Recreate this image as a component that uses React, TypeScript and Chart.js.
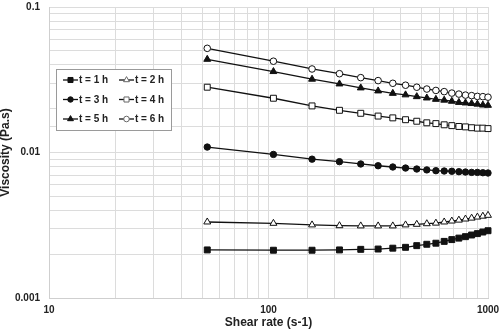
import React, { useEffect, useRef } from 'react';
import { Chart, registerables } from 'chart.js';

Chart.register(...registerables);

// Shear rate (s-1)
const shearRate = [52.6, 105.3, 157.9, 210.5, 263.2, 315.8, 368.4, 421.1, 473.7, 526.3, 578.9, 631.6, 684.2, 736.8, 789.5, 842.1, 894.7, 947.4, 1000];

// Viscosity (Pa.s)
const visc1h = [0.00214, 0.00213, 0.00213, 0.00214, 0.00216, 0.00217, 0.0022, 0.00223, 0.00229, 0.00234, 0.00238, 0.00245, 0.00252, 0.00258, 0.00264, 0.00271, 0.00277, 0.00284, 0.0029];
const visc2h = [0.00333, 0.00326, 0.00318, 0.00314, 0.00313, 0.00313, 0.00313, 0.00318, 0.00321, 0.00324, 0.00327, 0.00333, 0.00338, 0.00343, 0.00349, 0.00354, 0.0036, 0.00365, 0.0037];
const visc3h = [0.0109, 0.0097, 0.009, 0.00865, 0.00834, 0.00811, 0.00795, 0.00782, 0.0077, 0.00759, 0.0075, 0.00746, 0.00743, 0.00738, 0.00734, 0.0073, 0.0073, 0.00726, 0.00723];
const visc4h = [0.0281, 0.0236, 0.0209, 0.0195, 0.0186, 0.0178, 0.0173, 0.0168, 0.0164, 0.016, 0.0158, 0.0155, 0.0153, 0.0151, 0.015, 0.0148, 0.0147, 0.0147, 0.0146];
const visc5h = [0.0437, 0.036, 0.0319, 0.0296, 0.0278, 0.0265, 0.0255, 0.0249, 0.0242, 0.0237, 0.0232, 0.0229, 0.0225, 0.0221, 0.0219, 0.0217, 0.0215, 0.0212, 0.0211];
const visc6h = [0.052, 0.0424, 0.0375, 0.0348, 0.0327, 0.0312, 0.0299, 0.029, 0.0281, 0.0273, 0.0267, 0.0262, 0.0256, 0.0252, 0.0248, 0.0246, 0.0243, 0.0242, 0.024];

const seriesLabels = ['t = 1 h', 't = 2 h', 't = 3 h', 't = 4 h', 't = 5 h', 't = 6 h'];
const seriesValues = [visc1h, visc2h, visc3h, visc4h, visc5h, visc6h];
const seriesMarkers = ['rect', 'triangle', 'circle', 'rect', 'triangle', 'circle'];
const seriesFilled = [true, false, true, false, true, false];
const markerRadius = [4.2, 4, 3.2, 4.2, 4, 3.3];

const xTickLabels = ['10', '100', '1000'];
const yTickLabels = ['0.001', '0.01', '0.1'];

const FONT = '"Liberation Sans", Arial, sans-serif';

function drawMarker(ctx: CanvasRenderingContext2D, style: string, x: number, y: number, r: number, filled: boolean) {
  ctx.save();
  ctx.beginPath();
  if (style === 'rect') {
    const s = Math.SQRT1_2 * r;
    ctx.rect(x - s, y - s, 2 * s, 2 * s);
  } else if (style === 'triangle') {
    let rad = 0;
    ctx.moveTo(x + Math.sin(rad) * r, y - Math.cos(rad) * r);
    rad += (2 * Math.PI) / 3;
    ctx.lineTo(x + Math.sin(rad) * r, y - Math.cos(rad) * r);
    rad += (2 * Math.PI) / 3;
    ctx.lineTo(x + Math.sin(rad) * r, y - Math.cos(rad) * r);
    ctx.closePath();
  } else {
    ctx.arc(x, y, r, 0, Math.PI * 2);
  }
  ctx.fillStyle = filled ? '#111' : '#fff';
  ctx.strokeStyle = filled ? '#111' : '#666';
  ctx.lineWidth = 1;
  ctx.fill();
  ctx.stroke();
  ctx.restore();
}

const boxLegend = {
  id: 'boxLegend',
  afterDraw(chart: any) {
    const { ctx, chartArea } = chart;
    const bx = chartArea.left + 7;
    const by = chartArea.top + 62;
    const bw = 115;
    const bh = 61;
    ctx.save();
    ctx.fillStyle = '#fff';
    ctx.strokeStyle = '#9a9a9a';
    ctx.lineWidth = 1;
    ctx.fillRect(bx, by, bw, bh);
    ctx.strokeRect(bx + 0.5, by + 0.5, bw, bh);
    ctx.font = `bold 10px ${FONT}`;
    ctx.textBaseline = 'middle';
    ctx.textAlign = 'left';
    for (let i = 0; i < seriesLabels.length; i++) {
      const col = i % 2;
      const row = Math.floor(i / 2);
      const lx = bx + 7 + col * 56;
      const ly = by + 11 + row * 19.5;
      ctx.strokeStyle = '#111';
      ctx.lineWidth = 1.3;
      ctx.beginPath();
      ctx.moveTo(lx, ly);
      ctx.lineTo(lx + 15, ly);
      ctx.stroke();
      drawMarker(ctx, seriesMarkers[i], lx + 7.5, ly, markerRadius[i] * 0.85, seriesFilled[i]);
      ctx.fillStyle = '#222';
      ctx.fillText(seriesLabels[i], lx + 16, ly + 0.5);
    }
    ctx.restore();
  },
};

export default function App() {
  const canvasRef = useRef<HTMLCanvasElement | null>(null);

  useEffect(() => {
    document.body.style.margin = '0';
    const canvas = canvasRef.current;
    if (!canvas) return;
    const datasets = seriesLabels.map((label, i) => ({
      label,
      data: shearRate.map((x, j) => ({ x, y: seriesValues[i][j] })),
      borderColor: '#111',
      borderWidth: 1.3,
      pointStyle: seriesMarkers[i],
      pointRadius: markerRadius[i],
      pointBorderWidth: 1,
      pointBorderColor: '#111',
      pointBackgroundColor: seriesFilled[i] ? '#111' : '#fff',
      tension: 0,
      clip: false as any,
      fill: false,
    }));

    const isPow10 = (v: number) => {
      const l = Math.log10(v);
      return Math.abs(l - Math.round(l)) < 1e-9;
    };

    const chart = new Chart(canvas, {
      type: 'scatter',
      data: { datasets: datasets as any },
      plugins: [boxLegend],
      options: {
        animation: false,
        responsive: false,
        showLine: true,
        layout: { padding: { top: 7, right: 12, left: 0, bottom: 0 } },
        plugins: {
          legend: { display: false },
          tooltip: { enabled: false },
        },
        scales: {
          x: {
            type: 'logarithmic',
            min: 10,
            max: 1000,
            border: { display: true, color: '#cfcfcf' },
            grid: { color: '#dcdcdc', drawTicks: false, lineWidth: 1 },
            ticks: {
              autoSkip: false,
              maxRotation: 0,
              padding: 6,
              color: '#222',
              font: { family: FONT, size: 10, weight: 'bold' },
              callback: (v: any) => {
                const n = Number(v);
                if (!isPow10(n)) return '';
                const s = String(Math.round(n));
                return xTickLabels.includes(s) ? s : '';
              },
            },
            title: {
              display: true,
              text: 'Shear rate (s-1)',
              color: '#222',
              font: { family: FONT, size: 12, weight: 'bold' },
              padding: { top: 0, bottom: 0 },
            },
            afterFit: (s: any) => { s.height = 32; s.paddingLeft = 0; s.paddingRight = 0; },
          },
          y: {
            type: 'logarithmic',
            min: 0.001,
            max: 0.1,
            border: { display: true, color: '#cfcfcf' },
            grid: { color: '#dcdcdc', drawTicks: false, lineWidth: 1 },
            ticks: {
              autoSkip: false,
              padding: 9,
              color: '#222',
              font: { family: FONT, size: 10, weight: 'bold' },
              callback: (v: any) => {
                const n = Number(v);
                if (!isPow10(n)) return '';
                const s = n >= 0.1 ? '0.1' : n >= 0.01 ? '0.01' : '0.001';
                return yTickLabels.includes(s) ? s : '';
              },
            },
            title: {
              display: true,
              text: 'Viscosity (Pa.s)',
              color: '#222',
              font: { family: FONT, size: 12, weight: 'bold', lineHeight: 1 },
              padding: { top: 0, bottom: 0 },
            },
            afterFit: (s: any) => { s.width = 49; s.paddingTop = 0; s.paddingBottom = 0; },
          },
        },
      },
    });
    return () => chart.destroy();
  }, []);

  return (
    <div style={{ width: 500, height: 330, background: '#fff' }}>
      <canvas ref={canvasRef} width={500} height={330} style={{ display: 'block' }} />
    </div>
  );
}
